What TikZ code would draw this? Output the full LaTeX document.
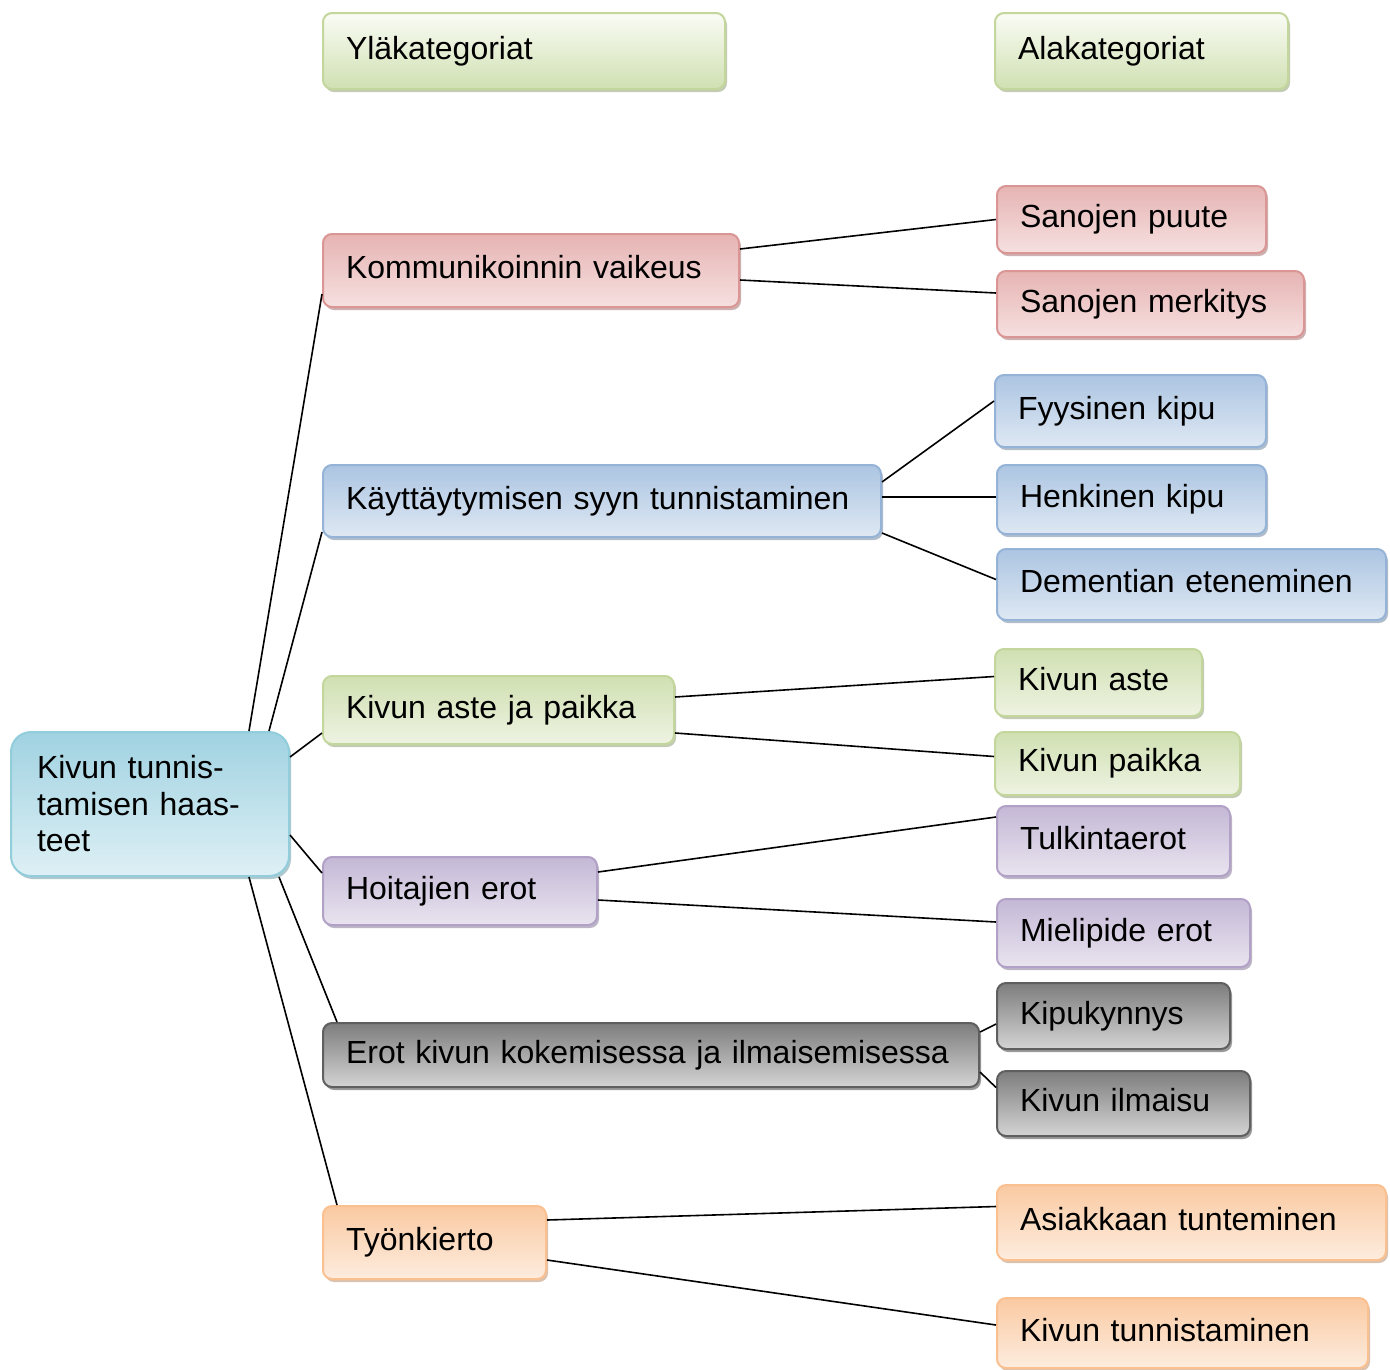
\documentclass[tikz,border=0pt]{standalone}
\usepackage{fontspec}
\setmainfont{Liberation Sans}
\usetikzlibrary{shadows}

\definecolor{rededge}{RGB}{217,150,148}
\definecolor{redtop}{RGB}{230,180,179}
\definecolor{redbot}{RGB}{246,224,224}
\definecolor{blueedge}{RGB}{149,179,215}
\definecolor{bluetop}{RGB}{172,197,226}
\definecolor{bluebot}{RGB}{222,232,243}
\definecolor{greenedge}{RGB}{195,214,155}
\definecolor{greentop}{RGB}{208,224,178}
\definecolor{greenbot}{RGB}{238,243,226}
\definecolor{purpleedge}{RGB}{178,161,199}
\definecolor{purpletop}{RGB}{196,184,214}
\definecolor{purplebot}{RGB}{233,228,239}
\definecolor{grayedge}{RGB}{95,95,95}
\definecolor{graytop}{RGB}{125,125,125}
\definecolor{graybot}{RGB}{212,212,212}
\definecolor{orangeedge}{RGB}{250,192,144}
\definecolor{orangetop}{RGB}{250,202,162}
\definecolor{orangebot}{RGB}{253,236,222}
\definecolor{cyanedge}{RGB}{146,205,220}
\definecolor{cyantop}{RGB}{160,210,225}
\definecolor{cyanbot}{RGB}{222,240,245}
\definecolor{headtop}{RGB}{250,252,245}

\tikzset{
  box/.style={draw=#1edge, line width=2pt, rounded corners=9pt,
    top color=#1top, bottom color=#1bot,
    drop shadow={shadow xshift=2pt, shadow yshift=-3pt, fill=#1edge!75!black, opacity=.55},
    anchor=north west, align=left, inner xsep=23pt, inner ysep=0pt,
    text height=23pt, text depth=7pt},
  boxw/.style={minimum width=#1, text width=#1-46},
  link/.style={line width=1.6pt, black}
}

\begin{document}
\begin{tikzpicture}[x=1pt, y=-1pt, font=\fontsize{32}{36.5}\selectfont]
\useasboundingbox (0,0) rectangle (1390,1369);

% otsikot
\node[box=green, top color=headtop, bottom color=greentop, boxw=402, minimum height=76] (yla) at (322,12) {Yläkategoriat};
\node[box=green, top color=headtop, bottom color=greentop, boxw=293, minimum height=76] (ala) at (994,12) {Alakategoriat};

% juuri
\node[box=cyan, boxw=278, minimum height=144, inner xsep=26pt, text width=226, text height=, text depth=, rounded corners=20pt] (root) at (10,731)
  {Kivun tunnis-\\tamisen haas-\\teet};

% yläkategoriat
\node[box=red, boxw=416, minimum height=73] (kom) at (322,233) {Kommunikoinnin vaikeus};
\node[box=blue, boxw=558, minimum height=72] (kay) at (322,464) {Käyttäytymisen syyn tunnistaminen};
\node[box=green, boxw=351, minimum height=68] (kap) at (322,675) {Kivun aste ja paikka};
\node[box=purple, boxw=274, minimum height=68] (hoi) at (322,856) {Hoitajien erot};
\node[box=gray, boxw=656, minimum height=64] (ero) at (322,1022) {Erot kivun kokemisessa ja ilmaisemisessa};
\node[box=orange, boxw=223, minimum height=73] (tyo) at (322,1205) {Työnkierto};

% alakategoriat
\node[box=red, boxw=269, minimum height=67] (sp) at (996,185) {Sanojen puute};
\node[box=red, boxw=307, minimum height=66] (sm) at (996,270) {Sanojen merkitys};
\node[box=blue, boxw=271, minimum height=72] (fk) at (994,374) {Fyysinen kipu};
\node[box=blue, boxw=269, minimum height=69] (hk) at (996,464) {Henkinen kipu};
\node[box=blue, boxw=389, minimum height=71] (de) at (996,548) {Dementian eteneminen};
\node[box=green, boxw=207, minimum height=67] (ka) at (994,648) {Kivun aste};
\node[box=green, boxw=245, minimum height=63] (kp) at (994,731) {Kivun paikka};
\node[box=purple, boxw=233, minimum height=70] (te) at (996,805) {Tulkintaerot};
\node[box=purple, boxw=253, minimum height=68] (me) at (996,898) {Mielipide erot};
\node[box=gray, boxw=233, minimum height=66] (kk) at (996,982) {Kipukynnys};
\node[box=gray, boxw=253, minimum height=65] (ki) at (996,1070) {Kivun ilmaisu};
\node[box=orange, boxw=389, minimum height=75] (at) at (996,1184) {Asiakkaan tunteminen};
\node[box=orange, boxw=371, minimum height=70] (kt) at (996,1297) {Kivun tunnistaminen};

% juuresta yläkategorioihin
\draw[link] ([xshift=99]root.north) -- ([yshift=14]kom.south west);
\draw[link] ([xshift=119]root.north) -- ([yshift=6]kay.south west);
\draw[link] ([yshift=-26]root.north east) -- ([yshift=12]kap.south west);
\draw[link] ([yshift=42]root.south east) -- ([yshift=-17]hoi.north west);
\draw[link] ([xshift=129]root.south) -- ([xshift=15]ero.north west);
\draw[link] ([xshift=99]root.south) -- ([xshift=15]tyo.north west);

% yläkategorioista alakategorioihin
\draw[link] ([yshift=-16]kom.north east) -- (sp.west);
\draw[link] ([yshift=-47]kom.north east) -- ([yshift=11]sm.west);
\draw[link] ([yshift=-18]kay.north east) -- ([yshift=10]fk.west);
\draw[link] ([yshift=4]kay.east) -- ([yshift=2.5]hk.west);
\draw[link] ([yshift=5]kay.south east) -- ([yshift=5]de.west);
\draw[link] ([yshift=-22]kap.north east) -- ([yshift=6]ka.west);
\draw[link] ([yshift=12]kap.south east) -- ([yshift=7]kp.west);
\draw[link] ([yshift=-16]hoi.north east) -- ([yshift=-12]te.north west);
\draw[link] ([yshift=26]hoi.south east) -- ([yshift=11]me.west);
\draw[link] ([yshift=-10]ero.north east) -- ([yshift=-8]kk.west);
\draw[link] ([yshift=16]ero.south east) -- ([yshift=16]ki.west);
\draw[link] ([yshift=-15]tyo.north east) -- ([yshift=16]at.west);
\draw[link] ([yshift=20]tyo.south east) -- ([yshift=8]kt.west);
\end{tikzpicture}
\end{document}
